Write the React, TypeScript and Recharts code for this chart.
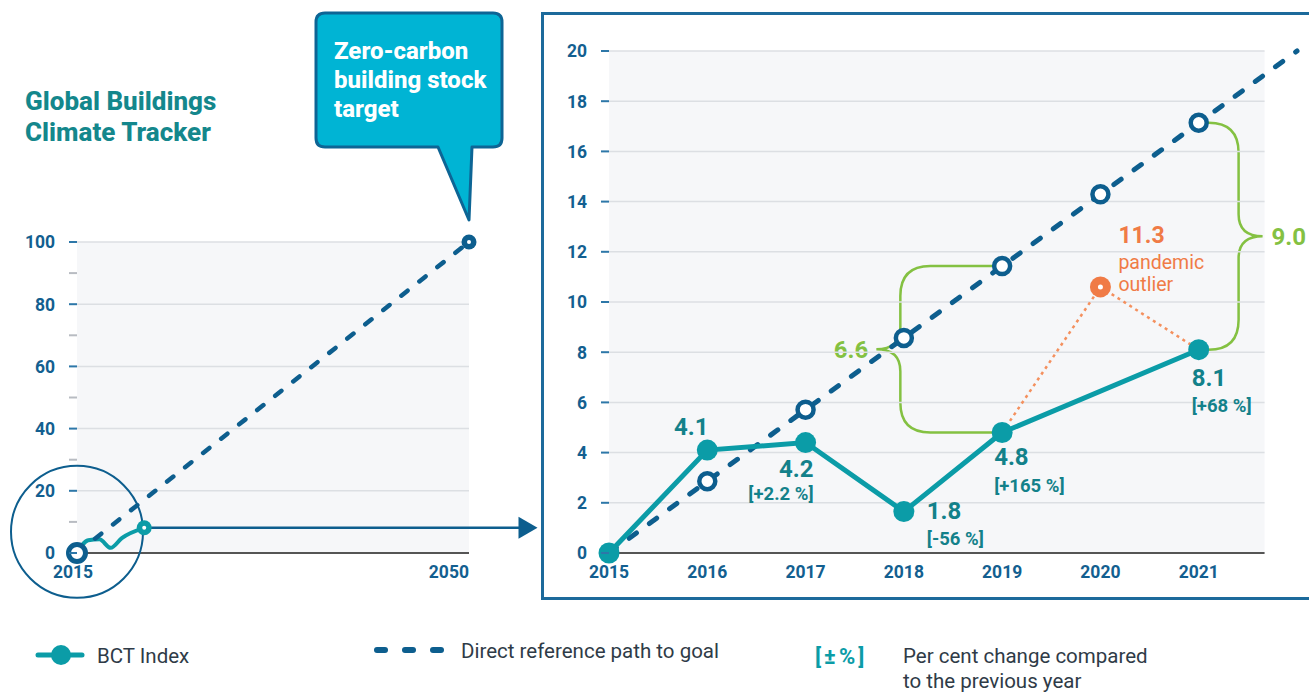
import React from 'react';
import { LineChart, Line, XAxis, YAxis, ReferenceLine, ReferenceArea, ReferenceDot } from 'recharts';

// detail chart (2015-2021)
const years = [2015, 2016, 2017, 2018, 2019, 2020, 2021, 2022];
const referencePath = [0, 2.86, 5.71, 8.57, 11.43, 14.29, 17.14, 20];
const bctIndex = [0, 4.1, 4.4, 1.65, 4.8, null, 8.1, null];
const pandemicPath = [null, null, null, null, 4.8, 10.6, 8.1, null];
const bctLabels = ['', '4.1', '4.2', '1.8', '4.8', '', '8.1', ''];
const changeLabels = ['', '', '[+2.2 %]', '[-56 %]', '[+165 %]', '', '[+68 %]', ''];
const outlierLabel = '11.3';
const detailYTicks = [0, 2, 4, 6, 8, 10, 12, 14, 16, 18, 20];
const detailXTicks = [2015, 2016, 2017, 2018, 2019, 2020, 2021];

// overview chart (2015-2050)
const overviewYears = [2015, 2016, 2017, 2018, 2019, 2021, 2050];
const overviewBct = [0, 4.1, 4.4, 1.65, 4.8, 8.1, null];
const overviewRef = [0, null, null, null, null, null, 100];
const overviewYTicks = [0, 10, 20, 30, 40, 50, 60, 70, 80, 90, 100];
const overviewXTicks = [2015, 2050];

const FONT = 'Roboto, "Noto Sans", sans-serif';
const TEAL = '#0b9ca7';
const TEAL_TEXT = '#13818a';
const BLUE = '#0d5e8e';
const AXIS_BLUE = '#135f90';
const GREEN = '#84c142';
const ORANGE = '#f07b46';
const GRID = '#dcdfe3';
const PLOT_BG = '#f6f7f9';

const detailData = years.map((year, i) => ({
  year,
  ref: referencePath[i],
  bct: bctIndex[i],
  pandemic: pandemicPath[i],
}));

const overviewData = overviewYears.map((year, i) => ({
  year,
  bct: overviewBct[i],
  ref: overviewRef[i],
}));

// where the value labels sit relative to each point
const labelPos: Record<number, { dx: number; dy: number; dy2: number; anchor: 'start' | 'middle' | 'end' }> = {
  2016: { dx: -16, dy: -15, dy2: 0, anchor: 'middle' },
  2017: { dx: 8, dy: 34, dy2: 57, anchor: 'end' },
  2018: { dx: 23, dy: 7, dy2: 33, anchor: 'start' },
  2019: { dx: -8, dy: 32, dy2: 59, anchor: 'start' },
  2021: { dx: -7, dy: 36, dy2: 62, anchor: 'start' },
};

const BctDot = (props: any) => {
  const { cx, cy, index } = props;
  if (cx == null || cy == null || bctIndex[index] == null) return <g key={`b${index}`} />;
  const pos = labelPos[years[index]];
  return (
    <g key={`b${index}`}>
      <circle cx={cx} cy={cy} r={10.5} fill={TEAL} />
      {pos && (
        <text x={cx + pos.dx} y={cy + pos.dy} textAnchor={pos.anchor} fill={TEAL_TEXT} fontSize={24} fontWeight={700} fontFamily={FONT}>
          {bctLabels[index]}
        </text>
      )}
      {pos && changeLabels[index] && (
        <text x={cx + pos.dx} y={cy + pos.dy2} textAnchor={pos.anchor} fill={TEAL_TEXT} fontSize={18.5} fontWeight={700} fontFamily={FONT}>
          {changeLabels[index]}
        </text>
      )}
    </g>
  );
};

const RefDot = (props: any) => {
  const { cx, cy, index } = props;
  if (cx == null || index === 0 || index === years.length - 1) return <g key={`r${index}`} />;
  return <circle key={`r${index}`} cx={cx} cy={cy} r={8} fill="#fff" stroke={BLUE} strokeWidth={4.5} />;
};

const PandemicDot = (props: any) => {
  const { cx, cy, index } = props;
  if (cx == null || years[index] !== 2020) return <g key={`p${index}`} />;
  return (
    <g key={`p${index}`}>
      <circle cx={cx} cy={cy} r={10.5} fill={ORANGE} />
      <circle cx={cx} cy={cy} r={2.5} fill="#fff" />
      <text x={cx + 18} y={cy - 44} fill={ORANGE} fontSize={23} fontWeight={700} fontFamily={FONT}>{outlierLabel}</text>
      <text x={cx + 18} y={cy - 18} fill={ORANGE} fontSize={19.5} fontFamily={FONT}>pandemic</text>
      <text x={cx + 18} y={cy + 4} fill={ORANGE} fontSize={19.5} fontFamily={FONT}>outlier</text>
    </g>
  );
};

const Brace = (props: any) => {
  const { x, y, width, height, side, label } = props;
  const top = y;
  const bottom = y + height;
  const mid = y + height / 2;
  const left = side === 'left';
  const tip = left ? x : x + width;
  const end = left ? x + width : x;
  const s = left ? 1 : -1;
  const stem = tip + s * 24;
  const r = 30;
  const d = [
    `M${end},${top}`,
    `H${stem + s * r}`,
    `Q${stem},${top} ${stem},${top + r}`,
    `V${mid - 22}`,
    `Q${stem},${mid} ${tip},${mid}`,
    `Q${stem},${mid} ${stem},${mid + 22}`,
    `V${bottom - r}`,
    `Q${stem},${bottom} ${stem + s * r},${bottom}`,
    `H${end}`,
  ].join(' ');
  return (
    <g>
      <path d={d} fill="none" stroke={GREEN} strokeWidth={2.5} />
      <text
        x={left ? tip - 8 : tip + 9}
        y={mid}
        dy="0.36em"
        textAnchor={left ? 'end' : 'start'}
        fill={GREEN}
        fontSize={24}
        fontWeight={700}
        fontFamily={FONT}
      >
        {label}
      </text>
    </g>
  );
};

const makeYTick = (labelEvery: number) => (props: any) => {
  const { x, y, payload } = props;
  const major = payload.value % labelEvery === 0;
  return (
    <g>
      <line x1={x - 8} x2={x} y1={y} y2={y} stroke={major ? '#2d77a8' : '#b8bcc2'} strokeWidth={2} />
      {major && (
        <text x={x - 22} y={y} dy="0.36em" textAnchor="end" fill={AXIS_BLUE} fontSize={17.5} fontWeight={700} fontFamily={FONT}>
          {payload.value}
        </text>
      )}
    </g>
  );
};

const OverviewXTick = (props: any) => {
  const { x, y, payload } = props;
  const last = payload.value === 2050;
  return (
    <text x={last ? x : x - 4} y={y} dy="0.71em" textAnchor={last ? 'end' : 'middle'} fill={AXIS_BLUE} fontSize={17.5} fontWeight={700} fontFamily={FONT}>
      {payload.value}
    </text>
  );
};

function OverviewChart() {
  const lastBct = overviewBct[overviewBct.length - 2] as number;
  return (
    <LineChart width={560} height={410} data={overviewData} margin={{ top: 42, right: 91, left: 0, bottom: 0 }}>
      <XAxis dataKey="year" type="number" domain={[2015, 2050]} ticks={overviewXTicks} tick={OverviewXTick} axisLine={false} tickLine={false} tickSize={0} tickMargin={13} height={57} interval={0} />
      <YAxis type="number" domain={[0, 100]} ticks={overviewYTicks} tick={makeYTick(20)} axisLine={false} tickLine={false} tickSize={0} tickMargin={0} width={77} interval={0} />
      <ReferenceArea x1={2015} x2={2050} y1={0} y2={100} fill={PLOT_BG} fillOpacity={1} stroke="none" />
      {[20, 40, 60, 80, 100].map((v) => (
        <ReferenceLine key={v} y={v} stroke={GRID} strokeWidth={1.5} />
      ))}
      <ReferenceLine y={0} stroke="#555" strokeWidth={2} />
      <ReferenceDot x={2015} y={6.8} r={66} fill="none" stroke={BLUE} strokeWidth={2} ifOverflow="visible" />
      <ReferenceLine segment={[{ x: 2021, y: lastBct }, { x: 2054.6, y: lastBct }]} stroke={BLUE} strokeWidth={2.5} ifOverflow="visible" />
      <ReferenceDot
        x={2054.6}
        y={lastBct}
        ifOverflow="visible"
        shape={(p: any) => <path d={`M${p.cx - 2},${p.cy - 11} L${p.cx + 17},${p.cy} L${p.cx - 2},${p.cy + 11} Z`} fill={BLUE} />}
      />
      <Line
        dataKey="bct"
        type="monotone"
        stroke={TEAL}
        strokeWidth={4}
        connectNulls
        isAnimationActive={false}
        activeDot={false}
        dot={(p: any) =>
          overviewYears[p.index] === 2021 ? (
            <g key={`ob${p.index}`}>
              <circle cx={p.cx} cy={p.cy} r={7.5} fill={TEAL} />
              <circle cx={p.cx} cy={p.cy} r={2} fill="#fff" />
            </g>
          ) : (
            <g key={`ob${p.index}`} />
          )
        }
      />
      <Line
        dataKey="ref"
        stroke={BLUE}
        strokeWidth={4.5}
        strokeDasharray="8 15"
        strokeLinecap="round"
        connectNulls
        isAnimationActive={false}
        activeDot={false}
        dot={(p: any) => {
          if (overviewRef[p.index] == null) return <g key={`or${p.index}`} />;
          if (p.index === 0) return <circle key={`or${p.index}`} cx={p.cx} cy={p.cy} r={8.5} fill="#fff" stroke={BLUE} strokeWidth={5} />;
          return (
            <g key={`or${p.index}`}>
              <circle cx={p.cx} cy={p.cy} r={7.5} fill={BLUE} />
              <circle cx={p.cx} cy={p.cy} r={2} fill="#fff" />
            </g>
          );
        }}
      />
    </LineChart>
  );
}

function DetailChart() {
  const gridEnd = 2021.67;
  return (
    <LineChart width={766} height={584} data={detailData} margin={{ top: 37, right: 12, left: 0, bottom: 0 }}>
      <XAxis
        dataKey="year"
        type="number"
        domain={[2015, 2022]}
        ticks={detailXTicks}
        tick={{ fill: AXIS_BLUE, fontSize: 17.5, fontWeight: 700, fontFamily: FONT }}
        axisLine={false}
        tickLine={false}
        tickSize={0}
        tickMargin={13}
        height={45}
        interval={0}
      />
      <YAxis type="number" domain={[0, 20]} ticks={detailYTicks} tick={makeYTick(2)} axisLine={false} tickLine={false} tickSize={0} tickMargin={0} width={66} interval={0} />
      <ReferenceArea x1={2015} x2={gridEnd} y1={0} y2={20} fill={PLOT_BG} fillOpacity={1} stroke="none" />
      {detailYTicks.slice(1).map((v) => (
        <ReferenceLine key={v} segment={[{ x: 2015, y: v }, { x: gridEnd, y: v }]} stroke={GRID} strokeWidth={1.5} />
      ))}
      <ReferenceLine segment={[{ x: 2015, y: 0 }, { x: gridEnd, y: 0 }]} stroke="#555" strokeWidth={2} />
      <ReferenceArea
        x1={2017.72}
        x2={2019}
        y1={bctIndex[4] as number}
        y2={referencePath[4]}
        ifOverflow="visible"
        shape={(p: any) => <Brace {...p} side="left" label={(referencePath[4] - (bctIndex[4] as number)).toFixed(1)} />}
      />
      <ReferenceArea
        x1={2021}
        x2={2021.65}
        y1={bctIndex[6] as number}
        y2={referencePath[6]}
        ifOverflow="visible"
        shape={(p: any) => <Brace {...p} side="right" label={(referencePath[6] - (bctIndex[6] as number)).toFixed(1)} />}
      />
      <Line dataKey="ref" stroke={BLUE} strokeWidth={5} strokeDasharray="9 16" strokeLinecap="round" dot={RefDot} activeDot={false} connectNulls isAnimationActive={false} />
      <Line dataKey="pandemic" stroke="#f4905e" strokeWidth={2.5} strokeDasharray="3 4" dot={PandemicDot} activeDot={false} isAnimationActive={false} />
      <Line dataKey="bct" stroke={TEAL} strokeWidth={5} dot={BctDot} activeDot={false} connectNulls isAnimationActive={false} />
    </LineChart>
  );
}

export default function App() {
  const legendText = { fontFamily: FONT, fontSize: 20.5, fill: '#2f3b47' };
  return (
    <div style={{ position: 'absolute', left: 0, top: 0, width: 1309, height: 693, overflow: 'hidden', background: '#fff', fontFamily: FONT }}>
      <svg width={1309} height={693} style={{ position: 'absolute', left: 0, top: 0 }}>
        <text x={25} y={110} fill="#14878c" fontSize={26} fontWeight={800} fontFamily={FONT}>Global Buildings</text>
        <text x={25} y={141} fill="#14878c" fontSize={26} fontWeight={800} fontFamily={FONT}>Climate Tracker</text>
        <path
          d="M325,13 H493 Q502,13 502,22 V138 Q502,147 493,147 H472 L469,220 L438,147 H325 Q316,147 316,138 V22 Q316,13 325,13 Z"
          fill="#00b4d4"
          stroke="#0d6595"
          strokeWidth={3}
          strokeLinejoin="round"
        />
        <text x={334} y={59} fill="#fff" fontSize={24} fontWeight={800} fontFamily={FONT}>Zero-carbon</text>
        <text x={334} y={88} fill="#fff" fontSize={24} fontWeight={800} fontFamily={FONT}>building stock</text>
        <text x={334} y={117} fill="#fff" fontSize={24} fontWeight={800} fontFamily={FONT}>target</text>

        {/* legend */}
        <line x1={38} x2={82} y1={655} y2={655} stroke={TEAL} strokeWidth={5} strokeLinecap="round" />
        <circle cx={61} cy={655} r={10} fill={TEAL} />
        <text x={97} y={663} {...legendText}>BCT Index</text>
        {[377, 405, 433].map((x) => (
          <line key={x} x1={x} x2={x + 8} y1={650} y2={650} stroke={BLUE} strokeWidth={6} strokeLinecap="round" />
        ))}
        <text x={461} y={658} {...legendText}>Direct reference path to goal</text>
        <text x={815} y={664} fill={TEAL} fontSize={22} fontWeight={700} fontFamily={FONT} letterSpacing={3}>[±%]</text>
        <text x={903} y={663} {...legendText}>Per cent change compared</text>
        <text x={903} y={688} {...legendText}>to the previous year</text>
      </svg>
      <div style={{ position: 'absolute', left: 541, top: 12, width: 800, height: 588, boxSizing: 'border-box', border: '3px solid #1c6a9b' }} />
      <div style={{ position: 'absolute', left: 543, top: 14 }}>
        <DetailChart />
      </div>
      <div style={{ position: 'absolute', left: 0, top: 200 }}>
        <OverviewChart />
      </div>
    </div>
  );
}
